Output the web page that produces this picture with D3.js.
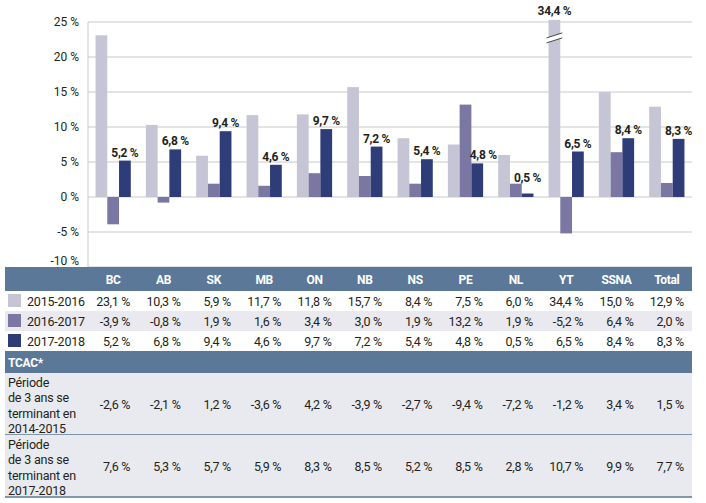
<!DOCTYPE html>
<html>
<head>
<meta charset="utf-8">
<script src="https://cdn.jsdelivr.net/npm/d3@7"></script>
<style>
  body { margin: 0; background: #fff; }
  svg { display: block; }
  text { font-family: "Roboto", "Liberation Sans", sans-serif; fill: #231f20; }
</style>
</head>
<body>
<svg id="chart" width="706" height="503"></svg>
<script>
// ---- data ----
const categories = ["BC","AB","SK","MB","ON","NB","NS","PE","NL","YT","SSNA","Total"];
const seriesNames = ["2015-2016","2016-2017","2017-2018"];
const v2015 = [23.1,10.3,5.9,11.7,11.8,15.7,8.4,7.5,6.0,34.4,15.0,12.9];
const v2016 = [-3.9,-0.8,1.9,1.6,3.4,3.0,1.9,13.2,1.9,-5.2,6.4,2.0];
const v2017 = [5.2,6.8,9.4,4.6,9.7,7.2,5.4,4.8,0.5,6.5,8.4,8.3];
const tcacTitle = "TCAC*";
const tcacRowLabels = [
  ["Période","de 3 ans se","terminant en","2014-2015"],
  ["Période","de 3 ans se","terminant en","2017-2018"]
];
const tcac2015 = [-2.6,-2.1,1.2,-3.6,4.2,-3.9,-2.7,-9.4,-7.2,-1.2,3.4,1.5];
const tcac2018 = [7.6,5.3,5.7,5.9,8.3,8.5,5.2,8.5,2.8,10.7,9.9,7.7];
const yTicks = [-10,-5,0,5,10,15,20,25];

// ---- setup ----
const colors = ["#c5c5d6","#7a77a2","#2e3d78"];
const headColor = "#5b7899";
const seriesValues = [v2015, v2016, v2017];
const svg = d3.select("#chart");
const fmt = v => v.toFixed(1).replace(".", ",") + " %";

const x0 = d3.scaleBand().domain(categories).range([88, 692]).paddingInner(0.3).paddingOuter(0.15);
const x1 = d3.scaleBand().domain(seriesNames).range([0, x0.bandwidth()]).padding(0);
const y = d3.scaleLinear().domain([-10, 25]).range([267, 22]);
const yMax = 25.3; // drawing cap for broken bar

// gridlines
svg.append("g").selectAll("line").data(yTicks).join("line")
  .attr("x1", 88).attr("x2", 692)
  .attr("y1", d => y(d)).attr("y2", d => y(d))
  .attr("stroke", "#c9c9c9").attr("stroke-width", 1);
svg.append("line").attr("x1", 88).attr("x2", 88).attr("y1", y(25)).attr("y2", y(-10))
  .attr("stroke", "#c9c9c9");

// y axis labels via d3 axis
const yAxis = d3.axisLeft(y).tickValues(yTicks).tickSize(0).tickPadding(0)
  .tickFormat(d => d + " %");
const ga = svg.append("g").attr("transform", "translate(79,0)").call(yAxis);
ga.select(".domain").remove();
ga.selectAll("text").attr("font-size", 12).attr("font-family", "Roboto, sans-serif").attr("fill", "#231f20")
  .attr("dy", d => d === -10 ? "-0.25em" : "0.32em");

// bars
const groups = svg.append("g").selectAll("g").data(categories).join("g")
  .attr("transform", d => `translate(${x0(d)},0)`);
groups.each(function(cat, i) {
  const g = d3.select(this);
  seriesNames.forEach((s, k) => {
    const v = seriesValues[k][i];
    const vc = Math.min(v, yMax);
    g.append("rect")
      .attr("x", x1(s)).attr("width", x1.bandwidth())
      .attr("y", y(Math.max(0, vc))).attr("height", Math.abs(y(vc) - y(0)))
      .attr("fill", colors[k]);
    if (v > yMax) {
      // break marks
      const bx = x1(s) - 2, bw = x1.bandwidth() + 4;
      const yt = y(vc);
      const a = yt + 18, b = yt + 13, gap = 5;
      g.append("polygon")
        .attr("points", `${bx},${a} ${bx + bw},${b} ${bx + bw},${b + gap} ${bx},${a + gap}`)
        .attr("fill", "#fff");
      g.append("line").attr("x1", bx).attr("y1", a).attr("x2", bx + bw).attr("y2", b)
        .attr("stroke", "#333").attr("stroke-width", 0.9);
      g.append("line").attr("x1", bx).attr("y1", a + gap).attr("x2", bx + bw).attr("y2", b + gap)
        .attr("stroke", "#333").attr("stroke-width", 0.9);
      g.append("text").attr("x", x1(s) + x1.bandwidth() / 2).attr("y", yt - 5)
        .attr("text-anchor", "middle").attr("font-size", 12).attr("font-weight", "bold")
        .attr("letter-spacing", -0.3).text(fmt(v));
    }
  });
  // label over 2017-2018 bar (avoid the neighbouring 2016-2017 bar)
  const v = v2017[i];
  let cx = x1("2017-2018") + x1.bandwidth() / 2;
  let ly = y(v) - 4;
  if (v2016[i] > v2017[i] + 2) cx += 6;
  else if (v2016[i] > v2017[i]) ly = y(v2016[i]) - 2;
  g.append("text").attr("x", cx).attr("y", ly)
    .attr("text-anchor", "middle").attr("font-size", 12).attr("font-weight", "bold")
    .attr("letter-spacing", -0.3).text(fmt(v));
});

// ---- table ----
const tL = 5, tR = 692;
const cxs = c => x0(c) + x0.bandwidth() / 2;
// header
svg.append("rect").attr("x", tL).attr("y", 267).attr("width", tR - tL).attr("height", 24).attr("fill", headColor);
svg.append("g").selectAll("text").data(categories).join("text")
  .attr("x", d => cxs(d)).attr("y", 284).attr("text-anchor", "middle")
  .attr("font-size", 12).attr("font-weight", "bold").attr("letter-spacing", -0.3)
  .style("fill", "#fff").text(d => d);

// series rows
const rowTop = [291, 311, 331];
const rowBg = ["#ffffff", "#e9e9ef", "#ffffff"];
seriesNames.forEach((s, k) => {
  const top = rowTop[k];
  svg.append("rect").attr("x", tL).attr("y", top).attr("width", tR - tL).attr("height", 20).attr("fill", rowBg[k]);
  svg.append("rect").attr("x", 8).attr("y", top + 3).attr("width", 13).attr("height", 13).attr("fill", colors[k]);
  svg.append("text").attr("x", 27).attr("y", top + 15).attr("font-size", 12.5)
    .attr("letter-spacing", -0.2).text(s);
  svg.append("g").selectAll("text").data(categories).join("text")
    .attr("x", d => cxs(d) + 17).attr("y", top + 15).attr("text-anchor", "end")
    .attr("font-size", 12.5).attr("letter-spacing", -0.3).text((d, i) => fmt(seriesValues[k][i]));
});

// TCAC header
svg.append("rect").attr("x", tL).attr("y", 351).attr("width", tR - tL).attr("height", 22).attr("fill", headColor);
svg.append("text").attr("x", 8).attr("y", 367).attr("font-size", 12).attr("font-weight", "bold")
  .attr("letter-spacing", -0.3).style("fill", "#fff").text(tcacTitle);

// TCAC rows
const tcacVals = [tcac2015, tcac2018];
const tTop = [373, 435];
tcacVals.forEach((vals, k) => {
  const top = tTop[k];
  svg.append("rect").attr("x", tL).attr("y", top).attr("width", tR - tL).attr("height", 62).attr("fill", "#e9eaef");
  svg.append("line").attr("x1", tL).attr("x2", tR).attr("y1", top + 62).attr("y2", top + 62)
    .attr("stroke", headColor).attr("stroke-width", 1.5);
  const t = svg.append("text").attr("x", 8).attr("font-size", 12.5).attr("letter-spacing", -0.2);
  tcacRowLabels[k].forEach((ln, j) => {
    t.append("tspan").attr("x", 8).attr("y", top + 14 + j * 15.3).text(ln);
  });
  svg.append("g").selectAll("text").data(categories).join("text")
    .attr("x", d => cxs(d) + 17).attr("y", top + 36).attr("text-anchor", "end")
    .attr("font-size", 12.5).attr("letter-spacing", -0.3).text((d, i) => fmt(vals[i]));
});
</script>
</body>
</html>
